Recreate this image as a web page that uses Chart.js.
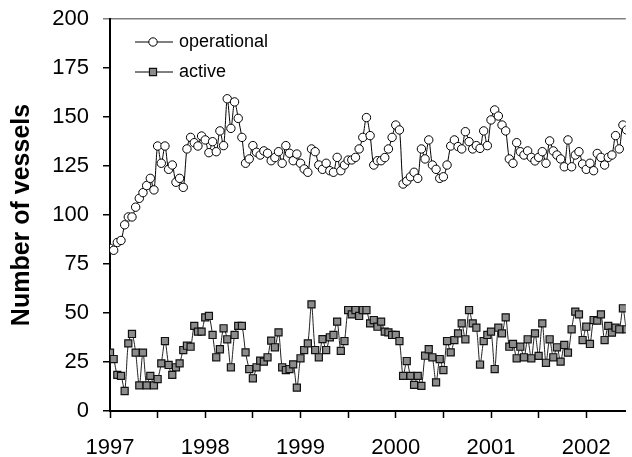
<!DOCTYPE html>
<html>
<head>
<meta charset="utf-8">
<script src="https://cdn.jsdelivr.net/npm/chart.js@4/dist/chart.umd.min.js"></script>
<style>
  html, body { margin: 0; padding: 0; background: #fff; }
  #wrap { width: 632px; height: 457px; }
</style>
</head>
<body>
<div id="wrap"><canvas id="vessels" width="632" height="457"></canvas></div>
<script>
// fortnightly counts, first value = start of 1997
var startYear = 1997;
var perYear = 26;

var operational = [
  83, 82, 86, 87, 95, 99, 99, 104, 108.5, 111.4, 115, 118.7, 112.8, 135.2, 126.4, 135.2,
  123.3, 125.5, 116.7, 118.7, 114.1, 133.7, 139.6, 136.9, 135.2, 140.3, 138.3, 131.8, 137.4, 132.3,
  142.9, 135.4, 159.3, 144.2, 157.7, 149.3, 139.6, 126.4, 128.6, 135.4, 132, 130.6, 132.7, 131.5,
  127.7, 129.3, 132.3, 126.4, 135.4, 131.5, 127.7, 131.1, 126.4, 123.5, 121.8, 133.7, 132.3, 125.5,
  123.3, 126.4, 122.6, 121.8, 129.4, 122.6, 125.5, 128, 128.1, 129.4, 133.7, 139.6, 149.7, 140.5,
  125.5, 127.7, 127.7, 129.3, 133.7, 139.6, 145.9, 143.4, 115.8, 117.3, 119.5, 121.8, 118.7, 133.7,
  128.6, 138.3, 125.5, 123.3, 118.7, 119.5, 125.5, 135.2, 138.3, 134.9, 133.7, 142.5, 137.4, 133.7,
  135.4, 134, 142.9, 135.4, 148.5, 153.6, 150.5, 145.9, 142.9, 128.6, 126.4, 136.9, 132.3, 130.6,
  132.7, 129.4, 127.6, 129.4, 132.3, 126.4, 137.8, 132.7, 130.6, 128.6, 124.6, 138.3, 124.6, 130.6,
  132.3, 126, 123.3, 126.4, 122.6, 131.4, 129.4, 125.5, 129.4, 130.6, 140.5, 133.7, 145.9, 143.4,
  141
];

var active = [
  29.8, 26.5, 18.4, 17.9, 10.2, 34.5, 39.3, 29.8, 13.1, 29.8, 13.1, 17.9, 13.1, 16.3, 24.3, 35.7,
  23.5, 18.4, 22.3, 24.3, 31.1, 33.3, 32.8, 43.4, 40.5, 40.5, 47.8, 48.5, 38.8, 27.4, 31.5, 42.2,
  36.6, 22.3, 38.8, 43.4, 43.4, 29.9, 21.4, 16.7, 22.3, 25.7, 25.2, 27.4, 35.9, 32.5, 40.1, 22.3,
  20.9, 21.4, 23.8, 11.9, 26.9, 31.1, 34.5, 54.4, 31.1, 27.4, 36.7, 31.1, 37.6, 38.8, 45.6, 30.7,
  35.7, 51.5, 49.3, 51.5, 48.5, 51.5, 51.5, 44.7, 46.4, 43, 45.6, 40.5, 40.1, 38.8, 38.8, 35.7,
  17.9, 25.5, 17.9, 13.3, 17.9, 12.8, 28.2, 31.5, 27.4, 14.6, 26.5, 20.9, 35.7, 29.9, 36.2, 39.6,
  44.7, 36.6, 51.5, 44.7, 42.5, 23.7, 35.7, 38.8, 40.5, 21.4, 42.5, 39.6, 47.8, 32.8, 34.2, 26.9,
  32.8, 27.4, 36.6, 26.9, 39.6, 28.1, 44.7, 24.6, 36.6, 27.4, 32.5, 25.2, 33.7, 29.8, 41.7, 50.7,
  49.3, 36.2, 43, 34.2, 46.4, 46.1, 49.3, 36.2, 43.4, 40, 42.5, 41.7, 52.4, 41.7, 60
];

var yearLabels = ['1997', '1998', '1999', '2000', '2001', '2002'];
var seriesNames = ['operational', 'active'];

function toPoints(values) {
  return values.map(function (v, i) {
    return { x: startYear + i / perYear, y: v };
  });
}

var fontFamily = '"Liberation Sans", Arial, Helvetica, sans-serif';

// legend drawn inside the plot, line through the marker like the original
var insideLegend = {
  id: 'insideLegend',
  afterDatasetsDraw: function (chart) {
    var ctx = chart.ctx;
    var area = chart.chartArea;
    ctx.save();
    chart.data.datasets.forEach(function (ds, i) {
      var y = area.top + 23 + i * 30;
      var cx = area.left + 43;
      ctx.strokeStyle = '#000';
      ctx.lineWidth = 1;
      ctx.beginPath();
      ctx.moveTo(area.left + 25, y);
      ctx.lineTo(area.left + 63, y);
      ctx.stroke();
      ctx.fillStyle = ds.pointBackgroundColor;
      ctx.strokeStyle = ds.pointBorderColor;
      ctx.lineWidth = ds.pointBorderWidth;
      ctx.beginPath();
      if (ds.pointStyle === 'circle') {
        ctx.arc(cx, y, ds.pointRadius, 0, Math.PI * 2);
      } else {
        var s = ds.pointRadius * Math.SQRT1_2;
        ctx.rect(cx - s, y - s, 2 * s, 2 * s);
      }
      ctx.fill();
      ctx.stroke();
      ctx.fillStyle = '#000';
      ctx.font = '18px ' + fontFamily;
      ctx.textBaseline = 'middle';
      ctx.textAlign = 'left';
      ctx.fillText(ds.label, area.left + 69, y);
    });
    ctx.restore();
  }
};

new Chart(document.getElementById('vessels').getContext('2d'), {
  type: 'line',
  data: {
    datasets: [{
      label: seriesNames[0],
      data: toPoints(operational),
      borderColor: '#000',
      borderWidth: 1,
      tension: 0.3,
      pointStyle: 'circle',
      pointRadius: 4.2,
      pointBorderWidth: 1,
      pointBackgroundColor: '#fff',
      pointBorderColor: '#000'
    }, {
      label: seriesNames[1],
      data: toPoints(active),
      borderColor: '#222',
      borderWidth: 1,
      tension: 0.3,
      pointStyle: 'rect',
      pointRadius: 5,
      pointBorderWidth: 1.2,
      pointBackgroundColor: '#8c8c8c',
      pointBorderColor: '#111'
    }]
  },
  options: {
    responsive: false,
    animation: false,
    devicePixelRatio: 1,
    layout: { padding: { top: 19, right: 0, bottom: 0, left: 0 } },
    plugins: {
      legend: { display: false },
      tooltip: { enabled: false }
    },
    scales: {
      x: {
        type: 'linear',
        min: 1997,
        max: 1997 + 522 / 96.4,
        afterFit: function (s) { s.height = 46; },
        border: { color: '#000', width: 2 },
        grid: { drawOnChartArea: false, tickLength: 7, color: '#000', tickWidth: 1.5 },
        ticks: {
          stepSize: 0.5,
          includeBounds: false,
          autoSkip: false,
          maxRotation: 0,
          padding: 17,
          color: '#000',
          font: { family: fontFamily, size: 22 },
          callback: function (v) {
            var i = yearLabels.indexOf(String(v));
            return i >= 0 ? yearLabels[i] : '';
          }
        }
      },
      y: {
        min: 0,
        max: 200,
        afterFit: function (s) {
          s.width = 110;
          s.paddingTop = 0;
          s.paddingBottom = 0;
        },
        border: { color: '#000', width: 2 },
        grid: {
          tickLength: 7,
          lineWidth: 1.5,
          color: function (c) { return c.tick && c.tick.value === 200 ? '#808080' : 'rgba(0,0,0,0)'; },
          tickColor: function (c) { return c.tick && c.tick.value === 200 ? '#808080' : '#000'; }
        },
        ticks: {
          stepSize: 25,
          padding: 14,
          color: '#000',
          font: { family: fontFamily, size: 22 }
        },
        title: {
          display: true,
          text: 'Number of vessels',
          color: '#000',
          padding: { top: 7, bottom: 0 },
          font: { family: fontFamily, size: 25, weight: 'bold' }
        }
      }
    }
  },
  plugins: [insideLegend]
});
</script>
</body>
</html>
